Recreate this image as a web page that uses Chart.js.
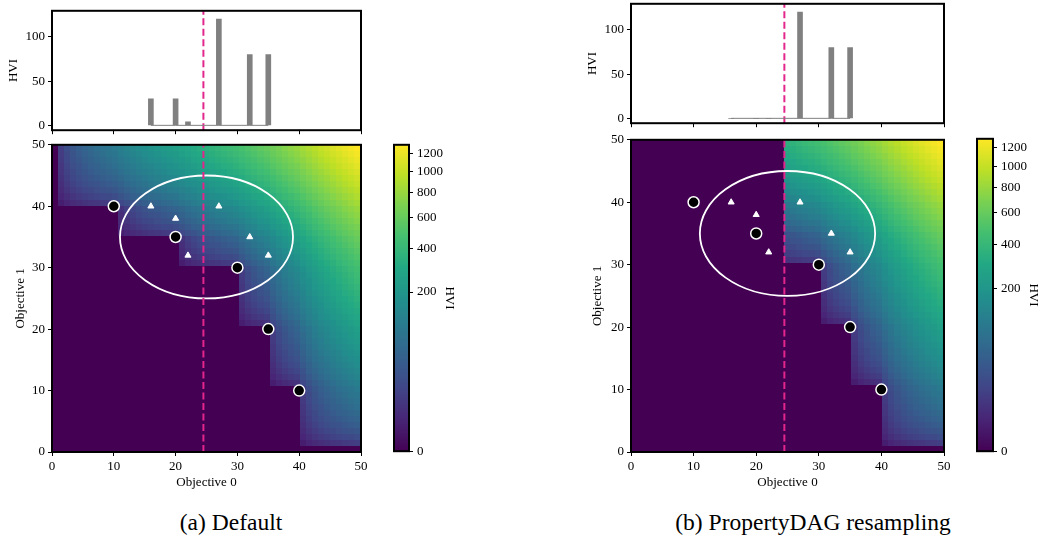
<!DOCTYPE html>
<html>
<head>
<meta charset="utf-8">
<script src="https://cdn.jsdelivr.net/npm/chart.js@4.4.0/dist/chart.umd.min.js"></script>
<style>
  body { margin: 0; background: #fff; width: 1042px; height: 539px; position: relative; overflow: hidden; font-family: 'Liberation Serif', serif; }
  .box { position: absolute; }
  .cap { position: absolute; top: 509px; font-size: 23.5px; color: #000; transform: translateX(-50%); white-space: nowrap; }
</style>
</head>
<body>
<div class="box" id="histA"></div>
<div class="box" id="heatA"></div>
<div class="box" id="cbarA"></div>
<div class="box" id="histB"></div>
<div class="box" id="heatB"></div>
<div class="box" id="cbarB"></div>
<div class="cap" style="left:231px">(a) Default</div>
<div class="cap" style="left:813px">(b) PropertyDAG resampling</div>
<script>
// current Pareto front (black circles)
const frontX = [10, 20, 30, 35, 40];
const frontY = [40, 35, 30, 20, 10];
// candidate points (white triangles) and their HVI bars
const candX = [16, 20, 22, 27, 32, 35];
const candY = [40, 38, 32, 40, 35, 32];
const hviDefault = [30, 30, 4, 120, 80, 80];
const hviResampled = [0, 0, 0, 120, 80, 80];
const threshold = 24.5;
const ellipseCenter = [25, 35];
const ellipseRadii = [14, 10];
const axisTicks = [0, 10, 20, 30, 40, 50];
const histTicks = [0, 50, 100];
const cbarTicks = [0, 200, 400, 600, 800, 1000, 1200];
const histRange = [-5.5, 129.5];
const gridN = 51;   // grid points 0..50 on each objective
const gamma = 0.35; // power norm of the colour scale

Chart.defaults.font.family = "'Liberation Serif', serif";
Chart.defaults.font.size = 13;
Chart.defaults.color = '#000';
Chart.defaults.animation = false;

const pink = '#e3268c';
const gray = '#808080';

// hypervolume improvement of (px, py) over the front, reference point (0, 0)
function hviAt(px, py) {
    const xs = [0, ...frontX.filter(v => v < px), px].sort((a, b) => a - b);
    let area = 0;
    for (let k = 0; k < xs.length - 1; k++) {
        const a = xs[k], b = xs[k + 1];
        if (b <= a) continue;
        const mid = (a + b) / 2;
        let cover = 0;
        frontX.forEach((fx, i) => { if (fx >= mid) cover = Math.max(cover, frontY[i]); });
        area += (b - a) * Math.max(0, py - cover);
    }
    return area;
}

function buildGrid(masked) {
    const rows = [];
    for (let j = 0; j < gridN; j++) {
        const row = [];
        for (let i = 0; i < gridN; i++) {
            const gx = i * 50 / (gridN - 1), gy = j * 50 / (gridN - 1);
            row.push(masked && gx < threshold ? 0 : hviAt(gx, gy));
        }
        rows.push(row);
    }
    return rows;
}

const gridA = buildGrid(false);
const gridB = buildGrid(true);
const vmax = Math.max(...gridA.map(r => Math.max(...r)));

const viridisStops = ['#440154', '#482475', '#414487', '#355f8d', '#2a788e', '#21918c',
    '#22a884', '#44bf70', '#7ad151', '#bddf26', '#fde725'].map(h => [
    parseInt(h.slice(1, 3), 16), parseInt(h.slice(3, 5), 16), parseInt(h.slice(5, 7), 16)]);

function viridis(t) {
    t = Math.min(1, Math.max(0, t));
    const p = t * (viridisStops.length - 1);
    const k = Math.min(viridisStops.length - 2, Math.floor(p));
    const f = p - k;
    const a = viridisStops[k], b = viridisStops[k + 1];
    return `rgb(${Math.round(a[0] + (b[0] - a[0]) * f)},${Math.round(a[1] + (b[1] - a[1]) * f)},${Math.round(a[2] + (b[2] - a[2]) * f)})`;
}

function norm(v) {
    return Math.pow(Math.max(0, v) / vmax, gamma);
}

// draws the HVI grid and the white ellipse under the datasets
const heatmapPlugin = {
    id: 'heatmap',
    beforeDatasetsDraw(chart, args, opts) {
        const { ctx, chartArea, scales: { x, y } } = chart;
        const cw = 50 / gridN;
        ctx.save();
        ctx.beginPath();
        ctx.rect(chartArea.left, chartArea.top, chartArea.width, chartArea.height);
        ctx.clip();
        opts.grid.forEach((row, j) => {
            row.forEach((v, i) => {
                const x0 = Math.floor(x.getPixelForValue(i * cw));
                const x1 = Math.ceil(x.getPixelForValue((i + 1) * cw));
                const y0 = Math.floor(y.getPixelForValue((j + 1) * cw));
                const y1 = Math.ceil(y.getPixelForValue(j * cw));
                ctx.fillStyle = viridis(norm(v));
                ctx.fillRect(x0, y0, x1 - x0, y1 - y0);
            });
        });
        const cx = x.getPixelForValue(ellipseCenter[0]);
        const cy = y.getPixelForValue(ellipseCenter[1]);
        const rx = x.getPixelForValue(ellipseCenter[0] + ellipseRadii[0]) - cx;
        const ry = cy - y.getPixelForValue(ellipseCenter[1] + ellipseRadii[1]);
        ctx.strokeStyle = '#fff';
        ctx.lineWidth = 1.8;
        ctx.beginPath();
        ctx.ellipse(cx, cy, rx, ry, 0, 0, 2 * Math.PI);
        ctx.stroke();
        ctx.restore();
    }
};

const colorbarPlugin = {
    id: 'colorbar',
    beforeDatasetsDraw(chart) {
        const { ctx, chartArea } = chart;
        const g = ctx.createLinearGradient(0, chartArea.bottom, 0, chartArea.top);
        for (let k = 0; k <= 40; k++) g.addColorStop(k / 40, viridis(k / 40));
        ctx.save();
        ctx.fillStyle = g;
        ctx.fillRect(chartArea.left, chartArea.top, chartArea.width, chartArea.height);
        ctx.restore();
    }
};

const framePlugin = {
    id: 'frame',
    afterDatasetsDraw(chart) {
        const { ctx, chartArea } = chart;
        ctx.save();
        ctx.strokeStyle = '#000';
        ctx.lineWidth = 2;
        ctx.strokeRect(chartArea.left, chartArea.top, chartArea.width, chartArea.height);
        ctx.restore();
    }
};

function tickGrid() {
    return { drawOnChartArea: false, drawTicks: true, tickLength: 4, color: '#000', lineWidth: 1 };
}

function fixedTicks(values) {
    return s => { s.ticks = values.map(v => ({ value: v })); };
}

function mount(id, area, pad) {
    const box = document.getElementById(id);
    const w = area.w + pad.l + pad.r, h = area.h + pad.t + pad.b;
    box.style.left = (area.x - pad.l) + 'px';
    box.style.top = (area.y - pad.t) + 'px';
    box.style.width = w + 'px';
    box.style.height = h + 'px';
    const cv = document.createElement('canvas');
    cv.width = w; cv.height = h;
    cv.style.width = w + 'px'; cv.style.height = h + 'px';
    box.appendChild(cv);
    return cv;
}

function createHist(id, area, pad, values) {
    const cv = mount(id, area, pad);
    return new Chart(cv, {
        type: 'bar',
        data: {
            datasets: [
                {
                    type: 'bar',
                    data: candX.map((x, i) => ({ x: x, y: values[i] })),
                    backgroundColor: gray,
                    borderWidth: 0,
                    barThickness: 5
                },
                {
                    type: 'line',
                    data: candX.map(x => ({ x: x, y: 0 })),
                    borderColor: gray,
                    borderWidth: 1,
                    pointRadius: 0
                },
                {
                    type: 'line',
                    data: [{ x: threshold, y: histRange[0] }, { x: threshold, y: histRange[1] }],
                    borderColor: pink,
                    borderWidth: 2,
                    borderDash: [7, 3.5],
                    pointRadius: 0
                }
            ]
        },
        options: {
            responsive: false,
            devicePixelRatio: 1,
            events: [],
            layout: { padding: { left: 0, top: pad.t, right: pad.r, bottom: 0 } },
            plugins: { legend: { display: false }, tooltip: { enabled: false } },
            scales: {
                x: {
                    type: 'linear', min: 0, max: 50, offset: false,
                    grid: { ...tickGrid(), offset: false },
                    border: { display: false },
                    ticks: { callback: () => '' },
                    afterBuildTicks: fixedTicks(axisTicks),
                    afterFit: s => { s.height = pad.b; }
                },
                y: {
                    min: histRange[0], max: histRange[1],
                    grid: tickGrid(),
                    border: { display: false },
                    ticks: { padding: 3 },
                    afterBuildTicks: fixedTicks(histTicks),
                    title: { display: true, text: 'HVI', padding: { top: 4, bottom: 0 } },
                    afterFit: s => { s.width = pad.l; }
                }
            }
        },
        plugins: [framePlugin]
    });
}

function createHeat(id, area, pad, grid) {
    const cv = mount(id, area, pad);
    return new Chart(cv, {
        type: 'scatter',
        data: {
            datasets: [
                {
                    data: frontX.map((x, i) => ({ x: x, y: frontY[i] })),
                    backgroundColor: '#000',
                    borderColor: '#fff',
                    borderWidth: 1.5,
                    pointRadius: 5.5
                },
                {
                    data: candX.map((x, i) => ({ x: x, y: candY[i] })),
                    pointStyle: 'triangle',
                    backgroundColor: '#fff',
                    borderColor: '#fff',
                    borderWidth: 1,
                    pointRadius: 3.5
                },
                {
                    type: 'line',
                    showLine: true,
                    data: [{ x: threshold, y: 0 }, { x: threshold, y: 50 }],
                    borderColor: pink,
                    borderWidth: 2,
                    borderDash: [7, 3.5],
                    pointRadius: 0
                }
            ]
        },
        options: {
            responsive: false,
            devicePixelRatio: 1,
            events: [],
            layout: { padding: { left: 0, top: pad.t, right: pad.r, bottom: 0 } },
            plugins: { legend: { display: false }, tooltip: { enabled: false }, heatmap: { grid: grid } },
            scales: {
                x: {
                    type: 'linear', min: 0, max: 50,
                    grid: tickGrid(),
                    border: { display: false },
                    ticks: { padding: 3, maxRotation: 0 },
                    afterBuildTicks: fixedTicks(axisTicks),
                    title: { display: true, text: 'Objective 0', padding: { top: 0, bottom: 0 } },
                    afterFit: s => { s.height = pad.b; }
                },
                y: {
                    type: 'linear', min: 0, max: 50,
                    grid: tickGrid(),
                    border: { display: false },
                    ticks: { padding: 3 },
                    afterBuildTicks: fixedTicks(axisTicks),
                    title: { display: true, text: 'Objective 1', padding: { top: 5, bottom: 0 } },
                    afterFit: s => { s.width = pad.l; }
                }
            }
        },
        plugins: [heatmapPlugin, framePlugin]
    });
}

function createColorbar(id, area, pad) {
    const cv = mount(id, area, pad);
    return new Chart(cv, {
        type: 'scatter',
        data: { datasets: [{ data: [] }] },
        options: {
            responsive: false,
            devicePixelRatio: 1,
            events: [],
            layout: { padding: { left: pad.l, top: pad.t, right: 0, bottom: pad.b } },
            plugins: { legend: { display: false }, tooltip: { enabled: false } },
            scales: {
                x: { display: false, min: 0, max: 1 },
                y: {
                    position: 'right',
                    min: 0, max: 1,
                    grid: tickGrid(),
                    border: { display: false },
                    ticks: { padding: 4, callback: (v, i) => cbarTicks[i] },
                    afterBuildTicks: s => { s.ticks = cbarTicks.map(v => ({ value: norm(v) })); },
                    title: { display: true, text: 'HVI', padding: { top: 5, bottom: 0 } },
                    afterFit: s => { s.width = pad.r; }
                }
            }
        },
        plugins: [colorbarPlugin, framePlugin]
    });
}

createHist('histA', { x: 52, y: 10, w: 309, h: 125 }, { l: 50, r: 12, t: 10, b: 6 }, hviDefault);
createHeat('heatA', { x: 52, y: 144, w: 309, h: 308 }, { l: 44, r: 12, t: 10, b: 38 }, gridA);
createColorbar('cbarA', { x: 394, y: 143, w: 15, h: 310 }, { l: 2, r: 53, t: 10, b: 10 });

createHist('histB', { x: 631, y: 3, w: 313, h: 125 }, { l: 50, r: 12, t: 10, b: 6 }, hviResampled);
createHeat('heatB', { x: 631, y: 139, w: 313, h: 313 }, { l: 46, r: 12, t: 10, b: 38 }, gridB);
createColorbar('cbarB', { x: 977, y: 137, w: 16, h: 316 }, { l: 2, r: 53, t: 10, b: 10 });
</script>
</body>
</html>
